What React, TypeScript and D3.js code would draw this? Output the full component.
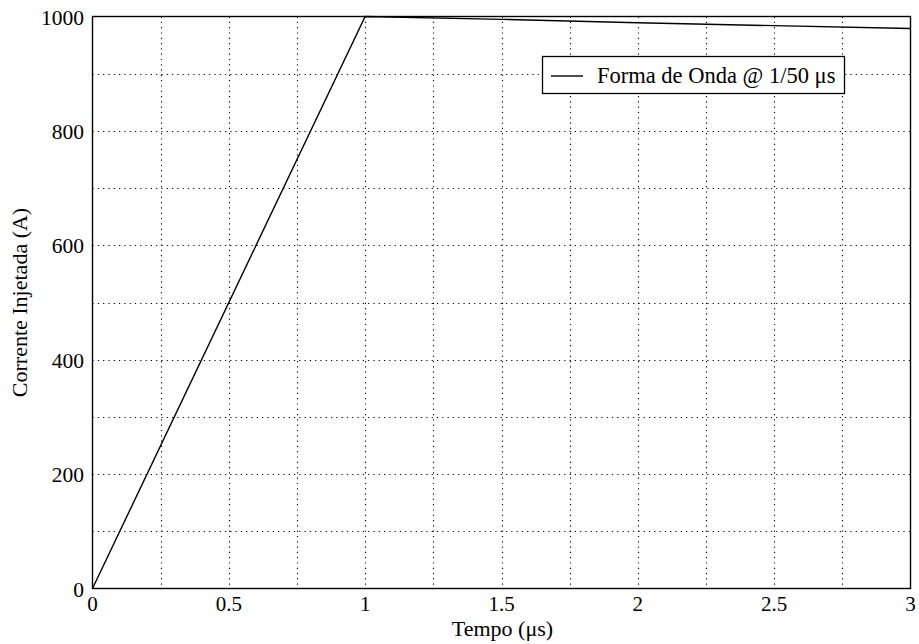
import React from "react";
import * as d3 from "d3";

const tempo = [0, 1, 1.5, 2, 2.5, 3];
const corrente = [0, 1000, 995, 989, 984, 979];
const xTicks = [0, 0.5, 1, 1.5, 2, 2.5, 3];
const yTicks = [0, 200, 400, 600, 800, 1000];
const xGrid = [0.25, 0.5, 0.75, 1, 1.25, 1.5, 1.75, 2, 2.25, 2.5, 2.75];
const yGrid = [100, 200, 300, 400, 500, 600, 700, 800, 900];
const legendLabel = "Forma de Onda @ 1/50 \u03bcs";

const width = 919;
const height = 644;
const left = 92.5;
const right = 910.5;
const top = 16.5;
const bottom = 588.5;
const font = "'Liberation Serif', 'Times New Roman', serif";

const App = () => {
  const x = d3.scaleLinear().domain([0, 3]).range([left, right]);
  const y = d3.scaleLinear().domain([0, 1000]).range([bottom, top]);

  const line = d3
    .line<number>()
    .x((d, i) => x(tempo[i]))
    .y((d) => y(d));

  return (
    <svg
      width={width}
      height={height}
      style={{ position: "absolute", left: 0, top: 0, background: "white" }}
    >
      {/* grid */}
      {xGrid.map((t) => (
        <line
          key={"gx" + t}
          x1={Math.round(x(t)) + 0.5}
          x2={Math.round(x(t)) + 0.5}
          y1={top}
          y2={bottom}
          stroke="#000"
          strokeWidth={1.1}
          strokeDasharray="1.2,4.1"
        />
      ))}
      {yGrid.map((v) => (
        <line
          key={"gy" + v}
          x1={left}
          x2={right}
          y1={Math.round(y(v)) + 0.5}
          y2={Math.round(y(v)) + 0.5}
          stroke="#000"
          strokeWidth={1.1}
          strokeDasharray="1.2,4.1"
        />
      ))}

      {/* frame */}
      <rect
        x={left}
        y={top}
        width={right - left}
        height={bottom - top}
        fill="none"
        stroke="#000"
        strokeWidth={1.4}
      />

      {/* curve */}
      <path d={line(corrente) || ""} fill="none" stroke="#000" strokeWidth={1.4} />

      {/* tick labels */}
      {xTicks.map((t) => (
        <text
          key={"tx" + t}
          x={x(t)}
          y={611}
          textAnchor="middle"
          fontFamily={font}
          fontSize={21}
        >
          {t}
        </text>
      ))}
      {yTicks.map((v) => (
        <text
          key={"ty" + v}
          x={84}
          y={y(v) + 8}
          textAnchor="end"
          fontFamily={font}
          fontSize={21.5}
        >
          {v}
        </text>
      ))}

      {/* axis labels */}
      <text
        x={(left + right) / 2 + 1}
        y={636}
        textAnchor="middle"
        fontFamily={font}
        fontSize={22}
      >
        Tempo (μs)
      </text>
      <text
        transform={`translate(27, ${(top + bottom) / 2}) rotate(-90)`}
        textAnchor="middle"
        fontFamily={font}
        fontSize={22}
      >
        Corrente Injetada (A)
      </text>

      {/* legend */}
      <rect x={542.5} y={56.5} width={302} height={37} fill="white" stroke="#000" strokeWidth={1.3} />
      <line x1={551} x2={583} y1={76} y2={76} stroke="#000" strokeWidth={1.4} />
      <text x={597} y={83} fontFamily={font} fontSize={22.5}>
        {legendLabel}
      </text>
    </svg>
  );
};

export default App;
